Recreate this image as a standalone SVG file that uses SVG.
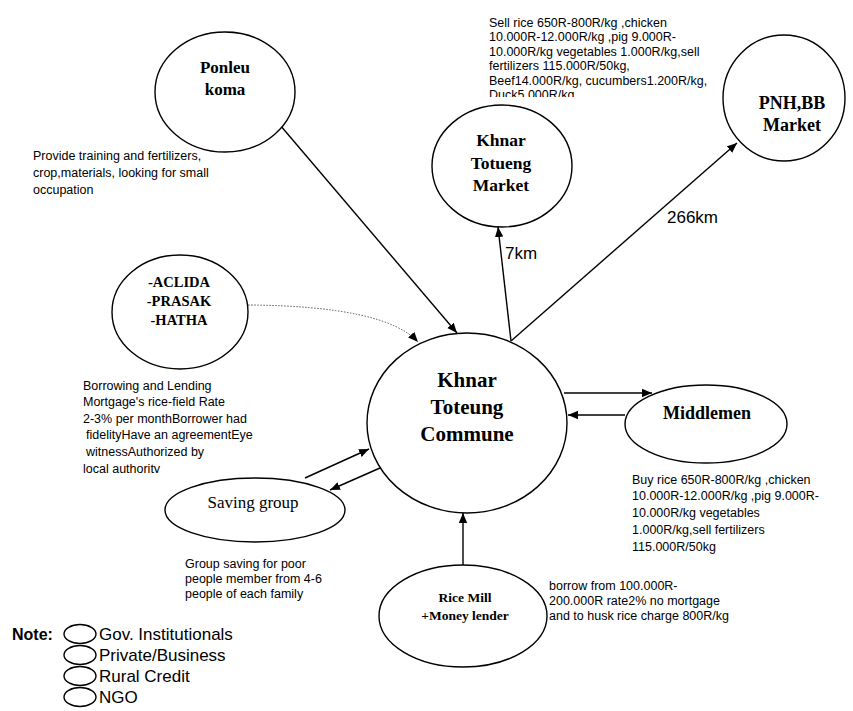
<svg xmlns="http://www.w3.org/2000/svg" width="853" height="711" viewBox="0 0 853 711">
<style>
.n{fill:#fff;stroke:#000;stroke-width:1.4}
.t{font-family:"Liberation Serif",serif;font-weight:bold;fill:#000;text-anchor:middle}
.s{font-family:"Liberation Sans",Arial,sans-serif;font-size:12.5px;fill:#000}
.c{stroke:#000;stroke-width:1.4;fill:none}
.d{stroke:#555;stroke-width:1;fill:none;stroke-dasharray:1.5 1.5}
</style>
<defs>
<marker id="a" viewBox="0 0 10 10" refX="10" refY="5" markerWidth="10" markerHeight="10" markerUnits="userSpaceOnUse" orient="auto">
<path d="M0,0.8 L10,5 L0,9.2 Z" fill="#000"/>
</marker>
<clipPath id="cl1"><rect x="480" y="0" width="300" height="97"/></clipPath>
<clipPath id="cl2"><rect x="70" y="370" width="240" height="103"/></clipPath>
</defs>
<rect width="853" height="711" fill="#fff"/>

<g id="connectors">
<line class="c" x1="280" y1="125" x2="457" y2="333" marker-end="url(#a)"/>
<path class="d" d="M248,305 Q385,306 418,342" marker-end="url(#a)"/>
<line class="c" x1="511" y1="341" x2="498" y2="227" marker-end="url(#a)"/>
<line class="c" x1="511" y1="341" x2="737" y2="143" marker-end="url(#a)"/>
<line class="c" x1="564" y1="393" x2="652" y2="393" marker-end="url(#a)"/>
<line class="c" x1="625" y1="415" x2="568" y2="415" marker-end="url(#a)"/>
<line class="c" x1="305" y1="478" x2="369" y2="449" marker-end="url(#a)"/>
<line class="c" x1="380" y1="468" x2="330" y2="490" marker-end="url(#a)"/>
<line class="c" x1="463" y1="565" x2="463" y2="513" marker-end="url(#a)"/>
<text class="s" x="505" y="259" style="font-size:17px">7km</text>
<text class="s" x="667" y="223" style="font-size:17px">266km</text>
</g>

<g id="ponleu">
<ellipse class="n" cx="225" cy="92" rx="70" ry="60"/>
<text class="t" x="225" y="73" font-size="17">Ponleu</text>
<text class="t" x="225" y="95" font-size="17">koma</text>
<text class="s" x="33" y="159.5">Provide training and fertilizers,</text>
<text class="s" x="33" y="176.5">crop,materials, looking for small</text>
<text class="s" x="33" y="193.5">occupation</text>
</g>

<g id="sell-text" clip-path="url(#cl1)">
<text class="s" x="489" y="26.5">Sell rice 650R-800R/kg ,chicken</text>
<text class="s" x="489" y="41">10.000R-12.000R/kg ,pig 9.000R-</text>
<text class="s" x="489" y="55.5">10.000R/kg vegetables 1.000R/kg,sell</text>
<text class="s" x="489" y="70">fertilizers 115.000R/50kg,</text>
<text class="s" x="489" y="84.5">Beef14.000R/kg, cucumbers1.200R/kg,</text>
<text class="s" x="489" y="99">Duck5.000R/kg</text>
</g>

<g id="market">
<ellipse class="n" cx="502" cy="166" rx="70" ry="61"/>
<text class="t" x="501" y="146" font-size="17.5">Khnar</text>
<text class="t" x="501" y="169" font-size="17.5">Totueng</text>
<text class="t" x="501" y="191" font-size="17.5">Market</text>
</g>

<g id="pnh">
<ellipse class="n" cx="784" cy="98" rx="61" ry="63"/>
<text class="t" x="792" y="109" font-size="18">PNH,BB</text>
<text class="t" x="792" y="131" font-size="18">Market</text>
</g>

<g id="aclida">
<ellipse class="n" cx="180" cy="312" rx="68" ry="57"/>
<text class="t" x="179" y="287" font-size="14.5">-ACLIDA</text>
<text class="t" x="179" y="306" font-size="14.5">-PRASAK</text>
<text class="t" x="179" y="325" font-size="14.5">-HATHA</text>
<g clip-path="url(#cl2)">
<text class="s" x="83" y="389.5">Borrowing and Lending</text>
<text class="s" x="83" y="406">Mortgage's rice-field Rate</text>
<text class="s" x="83" y="422.5">2-3% per monthBorrower had</text>
<text class="s" x="86" y="439">fidelityHave an agreementEye</text>
<text class="s" x="86" y="456">witnessAuthorized by</text>
<text class="s" x="83" y="472.5">local authority</text>
</g>
</g>

<g id="commune">
<ellipse class="n" cx="467" cy="423" rx="100" ry="90"/>
<text class="t" x="467" y="387" font-size="21">Khnar</text>
<text class="t" x="467" y="414" font-size="21">Toteung</text>
<text class="t" x="467" y="441" font-size="21">Commune</text>
</g>

<g id="middlemen">
<ellipse class="n" cx="706" cy="424" rx="81" ry="39"/>
<text class="t" x="707" y="419" font-size="18">Middlemen</text>
<text class="s" x="632" y="483.5">Buy rice 650R-800R/kg ,chicken</text>
<text class="s" x="632" y="500">10.000R-12.000R/kg ,pig 9.000R-</text>
<text class="s" x="632" y="517">10.000R/kg vegetables</text>
<text class="s" x="632" y="533.5">1.000R/kg,sell fertilizers</text>
<text class="s" x="632" y="550.5">115.000R/50kg</text>
</g>

<g id="saving">
<ellipse class="n" cx="255" cy="510" rx="90" ry="32"/>
<text x="253" y="508" font-family="Liberation Serif,serif" font-size="17" text-anchor="middle">Saving group</text>
<text class="s" x="185" y="567.5">Group saving for poor</text>
<text class="s" x="185" y="582.5">people member from 4-6</text>
<text class="s" x="185" y="597.5">people of each family</text>
</g>

<g id="ricemill">
<ellipse class="n" cx="463" cy="616" rx="84" ry="51"/>
<text class="t" x="465" y="602" font-size="13.5">Rice Mill</text>
<text class="t" x="465" y="620" font-size="13.5">+Money lender</text>
<text class="s" x="549" y="589.5">borrow from 100.000R-</text>
<text class="s" x="549" y="604.5">200.000R rate2% no mortgage</text>
<text class="s" x="549" y="619.5">and to husk rice charge 800R/kg</text>
</g>

<g id="legend">
<text x="12" y="640" font-family="Liberation Sans,Arial,sans-serif" font-size="16" font-weight="bold">Note:</text>
<ellipse class="n" cx="80" cy="634" rx="16" ry="9.5"/>
<ellipse class="n" cx="80" cy="655" rx="16" ry="9.5"/>
<ellipse class="n" cx="80" cy="676" rx="16" ry="9.5"/>
<ellipse class="n" cx="80" cy="697" rx="16" ry="9.5"/>
<text class="s" x="99" y="640" style="font-size:17px">Gov. Institutionals</text>
<text class="s" x="99" y="661" style="font-size:17px">Private/Business</text>
<text class="s" x="99" y="682" style="font-size:17px">Rural Credit</text>
<text class="s" x="99" y="703" style="font-size:17px">NGO</text>
</g>
</svg>
